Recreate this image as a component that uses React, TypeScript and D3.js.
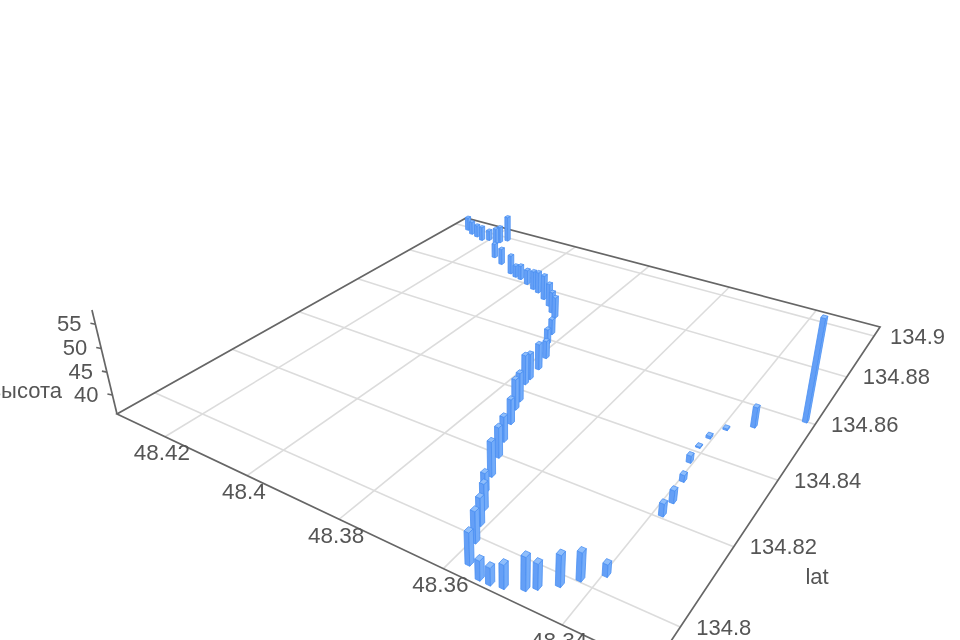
import React from "react";
import * as d3 from "d3";

const barLng = [48.3575,48.3545,48.3527,48.3507,48.3479,48.3466,48.3442,48.3423,48.3396,48.3595,48.3611,48.3627,48.3650,48.3665,48.3684,48.3702,48.3721,48.3739,48.3747,48.3770,48.3772,48.3777,48.3787,48.3813,48.3827,48.3858,48.3875,48.3896,48.3922,48.3949,48.3967,48.3992,48.4018,48.4034,48.4053,48.4099,48.4133,48.4281,48.4258,48.4238,48.4216,48.4201,48.4174,48.4171,48.4161,48.3282,48.3354,48.3392,48.3407,48.3411,48.3407,48.3395,48.3386,48.3386];
const barLat = [134.7944,134.7926,134.7926,134.7931,134.7945,134.7957,134.7980,134.8007,134.8037,134.7990,134.8028,134.8063,134.8101,134.8144,134.8196,134.8241,134.8295,134.8340,134.8368,134.8426,134.8447,134.8489,134.8535,134.8586,134.8628,134.8696,134.8713,134.8737,134.8759,134.8780,134.8789,134.8803,134.8817,134.8821,134.8830,134.8862,134.8885,134.8989,134.8973,134.8966,134.8955,134.8965,134.8954,134.8968,134.8988,134.8602,134.8533,134.8497,134.8455,134.8418,134.8368,134.8312,134.8250,134.8210];
const barHeight = [42.3,39.7,39.25,40.5,42.4,40.85,42.0,41.45,38.2,42.2,41.5,41.25,39.95,43.1,42.25,41.2,41.2,42.5,42.15,42.4,41.6,41.6,39.8,39.3,39.35,40.75,40.8,41.26,41.7,40.9,40.3,39.4,39.27,38.68,40.46,39.8,39.4,39.2,39.04,38.86,39.3,38.37,39.93,39.94,42.25,57.9,40.2,36.1,36.3,36.0,37.27,37.18,38.41,38.37];

const lngTicks = [48.42, 48.4, 48.38, 48.36, 48.34];
const latTicks = [134.9, 134.88, 134.86, 134.84, 134.82, 134.8];
const heightTicks = [40, 45, 50, 55];
const lngDomain = [48.4328, 48.3264];
const latDomain = [134.7912, 134.9048];
const heightDomain = [35.75, 57.9];

const sScale = d3.scaleLinear().domain(lngDomain).range([0, 1]);
const tScale = d3.scaleLinear().domain(latDomain).range([0, 1]);
const qScale = d3.scaleLinear().domain(heightDomain).range([0, 0.0598]);

// projective camera: ground plane homography + vanishing point of the vertical axis
const H = { a: 352.1, b: 558.3, c: 117, d: 65.85, e: -98.1, f: 414, g: -0.28166, h: 0.44912 };
const VP = [511, 2050];

function project(lng: number, lat: number, z: number): [number, number] {
  const s = sScale(lng), t = tScale(lat), q = qScale(z);
  const w = H.g * s + H.h * t + 1 - q;
  const X = H.a * s + H.b * t + H.c - VP[0] * q;
  const Y = H.d * s + H.e * t + H.f - VP[1] * q;
  return [X / w, Y / w];
}

const zBase = heightDomain[0];
const [lng0, lng1] = lngDomain;
const [lat0, lat1] = latDomain;
const line = d3.line();
const poly = (pts: [number, number][]) => (line(pts) as string) + "Z";
const fmt = (v: number) => String(v);
const halfLng = 0.00042;
const halfLat = 0.00058;

const bars = barLng
  .map((lng, i) => ({ lng, lat: barLat[i], z: barHeight[i], y: project(lng, barLat[i], zBase)[1] }))
  .sort((p, q) => p.y - q.y);

const FONT = "'Liberation Sans', Arial, sans-serif";
const TEXT = "#555";
const AXIS = "#666";
const GRID = "#dcdcdc";

export default function App() {
  const corners: [number, number][] = [
    project(lng0, lat0, zBase),
    project(lng1, lat0, zBase),
    project(lng1, lat1, zBase),
    project(lng0, lat1, zBase),
  ];
  const zTop = project(lng0, lat0, heightDomain[1]);
  return (
    <svg
      width={960}
      height={640}
      style={{ position: "absolute", left: 0, top: 0, filter: "blur(0.7px)", background: "#fff" }}
      fontFamily={FONT}
    >
      {lngTicks.map((v) => (
        <path key={"gx" + v} d={line([project(v, lat0, zBase), project(v, lat1, zBase)]) as string} stroke={GRID} strokeWidth={1.6} fill="none" />
      ))}
      {latTicks.map((v) => (
        <path key={"gy" + v} d={line([project(lng0, v, zBase), project(lng1, v, zBase)]) as string} stroke={GRID} strokeWidth={1.6} fill="none" />
      ))}
      <path d={poly(corners)} fill="none" stroke={AXIS} strokeWidth={1.7} />
      <path d={line([corners[0], zTop]) as string} fill="none" stroke={AXIS} strokeWidth={1.7} />
      {heightTicks.map((v) => {
        const [x, y] = project(lng0, lat0, v);
        return (
          <g key={"z" + v}>
            <path d={line([[x, y], [x - 5, y - 1]]) as string} stroke={AXIS} strokeWidth={1.6} />
            <text x={x - 14} y={y - 1} textAnchor="end" dominantBaseline="central" fontSize={22} fill={TEXT}>{fmt(v)}</text>
          </g>
        );
      })}
      {lngTicks.map((v) => {
        const [x, y] = project(v, lat0, zBase);
        return (
          <text key={"lx" + v} x={x - 3} y={y + 16} textAnchor="middle" dominantBaseline="central" fontSize={22.5} fill={TEXT}>{fmt(v)}</text>
        );
      })}
      {latTicks.map((v) => {
        const [x, y] = project(lng1, v, zBase);
        return (
          <text key={"ly" + v} x={x + 16} y={y} textAnchor="start" dominantBaseline="central" fontSize={22} fill={TEXT}>{fmt(v)}</text>
        );
      })}
      <text x={62} y={390} textAnchor="end" dominantBaseline="central" fontSize={22} fill={TEXT}>высота</text>
      <text x={817} y={576} textAnchor="middle" dominantBaseline="central" fontSize={22} fill={TEXT}>lat</text>
      {bars.map((b, i) => {
        const xa = b.lng - halfLng, xb = b.lng + halfLng;
        const ya = b.lat - halfLat, yb = b.lat + halfLat;
        const p = (x: number, y: number, z: number) => project(x, y, z);
        const side1 = poly([p(xa, ya, zBase), p(xb, ya, zBase), p(xb, ya, b.z), p(xa, ya, b.z)]);
        const side2 = poly([p(xa, ya, zBase), p(xa, yb, zBase), p(xa, yb, b.z), p(xa, ya, b.z)]);
        const top = poly([p(xa, ya, b.z), p(xb, ya, b.z), p(xb, yb, b.z), p(xa, yb, b.z)]);
        return (
          <g key={i} stroke="#4a8ff2" strokeWidth={0.8} strokeLinejoin="round">
            <path d={side1} fill="#649ff6" />
            <path d={side2} fill="#74acf9" />
            <path d={top} fill="#8fbefb" />
          </g>
        );
      })}
    </svg>
  );
}
